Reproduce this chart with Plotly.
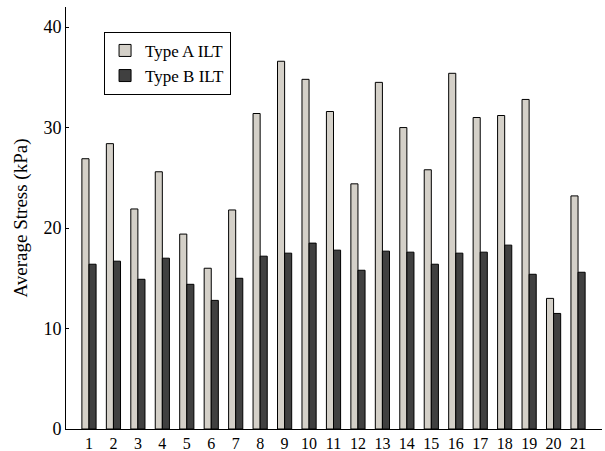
import plotly.graph_objects as go

# Average stress per case for the two ILT types
cases = [str(i) for i in range(1, 22)]
type_a = [26.9, 28.4, 21.9, 25.6, 19.4, 16.0, 21.8, 31.4, 36.6, 34.8, 31.6,
          24.4, 34.5, 30.0, 25.8, 35.4, 31.0, 31.2, 32.8, 13.0, 23.2]
type_b = [16.4, 16.7, 14.9, 17.0, 14.4, 12.8, 15.0, 17.2, 17.5, 18.5, 17.8,
          15.8, 17.7, 17.6, 16.4, 17.5, 17.6, 18.3, 15.4, 11.5, 15.6]
y_ticks = [0, 10, 20, 30, 40]

FONT = "Liberation Serif"

fig = go.Figure()
fig.add_bar(x=cases, y=type_a, name="Type A ILT",
            marker=dict(color="#d4d0c8", line=dict(color="#000000", width=1)))
fig.add_bar(x=cases, y=type_b, name="Type B ILT",
            marker=dict(color="#404040", line=dict(color="#000000", width=1)))

fig.update_layout(
    width=605, height=451,
    margin=dict(l=66, r=3, t=7, b=22),
    paper_bgcolor="white", plot_bgcolor="white",
    barmode="group", bargap=0.42, bargroupgap=0.0,
    font=dict(family=FONT, size=18, color="#000000"),
    showlegend=True,
    legend=dict(x=0.071, y=0.941, xanchor="left", yanchor="top",
                bgcolor="white", bordercolor="#000000", borderwidth=1,
                font=dict(family=FONT, size=17), itemwidth=30,
                tracegroupgap=0),
)
fig.update_xaxes(
    type="category", range=[-0.94, 20.98], automargin=False,
    showline=True, linecolor="#000000", linewidth=1,
    ticks="", showgrid=False, zeroline=False,
    tickfont=dict(family=FONT, size=16),
)
fig.update_yaxes(
    range=[0, 42], automargin=False,
    tickvals=y_ticks, ticktext=[str(v) for v in y_ticks],
    showline=True, linecolor="#000000", linewidth=1,
    ticks="inside", ticklen=3, tickcolor="#000000",
    showgrid=False, zeroline=False,
    tickfont=dict(family=FONT, size=18),
    title=dict(text="Average Stress (kPa)", font=dict(family=FONT, size=19), standoff=10),
)

fig.write_html("out.html")
